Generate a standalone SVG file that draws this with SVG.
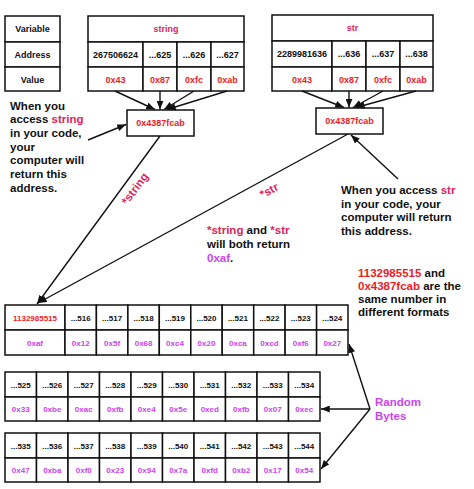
<svg xmlns="http://www.w3.org/2000/svg" width="474" height="489" viewBox="0 0 474 489">
<defs>
<style>
.c{fill:#fff;stroke:#111;stroke-width:1.5}
.t{font-family:"Liberation Sans",Arial,sans-serif;font-weight:bold;font-size:9px;text-anchor:middle;fill:#111}
.s{font-size:8px}
.x{font-family:"Liberation Sans",Arial,sans-serif;font-weight:bold;font-size:11.5px;fill:#111}
.red{fill:#ee1c25}
.cr{fill:#e0245a}
.pu{fill:#cc44ee}
.ln{stroke:#111;stroke-width:1.4;fill:none}
</style>
<marker id="ah" viewBox="0 0 10 8" refX="10" refY="4" markerWidth="9" markerHeight="7" markerUnits="userSpaceOnUse" orient="auto">
<path d="M0,0 L10,4 L0,8 z" fill="#111"/>
</marker>
</defs>
<rect width="474" height="489" fill="#fff"/>

<g id="legend">
<rect class="c" x="5" y="16" width="55" height="26"/>
<rect class="c" x="5" y="42" width="55" height="25"/>
<rect class="c" x="5" y="67" width="55" height="24"/>
<text class="t" x="32.5" y="32">Variable</text>
<text class="t" x="32.5" y="57.5">Address</text>
<text class="t" x="32.5" y="82.5">Value</text>
</g>

<g id="string-table">
<rect class="c" x="88" y="16" width="156" height="26"/>
<rect class="c" x="88" y="42" width="55" height="25"/>
<rect class="c" x="143" y="42" width="34" height="25"/>
<rect class="c" x="177" y="42" width="34" height="25"/>
<rect class="c" x="211" y="42" width="33" height="25"/>
<rect class="c" x="88" y="67" width="55" height="24"/>
<rect class="c" x="143" y="67" width="34" height="24"/>
<rect class="c" x="177" y="67" width="34" height="24"/>
<rect class="c" x="211" y="67" width="33" height="24"/>
<text class="t cr" x="166" y="32">string</text>
<text class="t" x="115.5" y="57.5">267506624</text>
<text class="t" x="160" y="57.5">...625</text>
<text class="t" x="194" y="57.5">...626</text>
<text class="t" x="227.5" y="57.5">...627</text>
<text class="t red" x="115.5" y="82.5">0x43</text>
<text class="t red" x="160" y="82.5">0x87</text>
<text class="t red" x="194" y="82.5">0xfc</text>
<text class="t red" x="227.5" y="82.5">0xab</text>
</g>

<g id="str-table">
<rect class="c" x="272" y="15" width="161" height="26"/>
<rect class="c" x="272" y="41" width="60" height="26"/>
<rect class="c" x="332" y="41" width="34" height="26"/>
<rect class="c" x="366" y="41" width="34" height="26"/>
<rect class="c" x="400" y="41" width="33" height="26"/>
<rect class="c" x="272" y="67" width="60" height="24"/>
<rect class="c" x="332" y="67" width="34" height="24"/>
<rect class="c" x="366" y="67" width="34" height="24"/>
<rect class="c" x="400" y="67" width="33" height="24"/>
<text class="t cr" x="352.5" y="31">str</text>
<text class="t" x="302" y="57">2289981636</text>
<text class="t" x="349" y="57">...636</text>
<text class="t" x="383" y="57">...637</text>
<text class="t" x="416.5" y="57">...638</text>
<text class="t red" x="302" y="82.5">0x43</text>
<text class="t red" x="349" y="82.5">0x87</text>
<text class="t red" x="383" y="82.5">0xfc</text>
<text class="t red" x="416.5" y="82.5">0xab</text>
</g>

<g id="string-pointer">
<rect class="c" x="127" y="110" width="67" height="26"/>
<text class="t red" x="160.5" y="126">0x4387fcab</text>
</g>

<g id="str-pointer">
<rect class="c" x="316" y="108" width="67" height="26"/>
<text class="t red" x="349.5" y="124">0x4387fcab</text>
</g>

<g id="note-string">
<text class="x" x="10" y="109.5">When you</text>
<text class="x" x="10" y="123.2">access <tspan class="cr">string</tspan></text>
<text class="x" x="10" y="136.9">in your code,</text>
<text class="x" x="10" y="150.6">your</text>
<text class="x" x="10" y="164.3">computer will</text>
<text class="x" x="10" y="178">return this</text>
<text class="x" x="10" y="191.7">address.</text>
</g>

<g id="note-str">
<text class="x" x="341" y="194">When you access <tspan class="cr">str</tspan></text>
<text class="x" x="341" y="207.5">in your code, your</text>
<text class="x" x="341" y="221">computer will return</text>
<text class="x" x="341" y="234.5">this address.</text>
</g>

<g id="note-deref">
<text class="x" x="207" y="234.3"><tspan class="cr">*string</tspan> and <tspan class="cr">*str</tspan></text>
<text class="x" x="207" y="248">will both return</text>
<text class="x" x="207" y="261.5"><tspan class="pu">0xaf</tspan>.</text>
</g>

<g id="note-formats">
<text class="x" x="358" y="277"><tspan class="red">1132985515</tspan> and</text>
<text class="x" x="358" y="290"><tspan class="red">0x4387fcab</tspan> are the</text>
<text class="x" x="358" y="303">same number in</text>
<text class="x" x="358" y="316">different formats</text>
</g>

<g id="note-random">
<text class="x pu" x="375" y="406">Random</text>
<text class="x pu" x="375" y="420">Bytes</text>
</g>

<g id="memory-row1">
<rect class="c" x="5" y="305" width="60" height="25"/>
<rect class="c" x="65" y="305" width="31.4" height="25"/>
<rect class="c" x="96.4" y="305" width="31.5" height="25"/>
<rect class="c" x="127.9" y="305" width="31.4" height="25"/>
<rect class="c" x="159.3" y="305" width="31.5" height="25"/>
<rect class="c" x="190.8" y="305" width="31.4" height="25"/>
<rect class="c" x="222.2" y="305" width="31.5" height="25"/>
<rect class="c" x="253.7" y="305" width="31.4" height="25"/>
<rect class="c" x="285.1" y="305" width="31.5" height="25"/>
<rect class="c" x="316.6" y="305" width="31.4" height="25"/>
<rect class="c" x="5" y="330" width="60" height="25"/>
<rect class="c" x="65" y="330" width="31.4" height="25"/>
<rect class="c" x="96.4" y="330" width="31.5" height="25"/>
<rect class="c" x="127.9" y="330" width="31.4" height="25"/>
<rect class="c" x="159.3" y="330" width="31.5" height="25"/>
<rect class="c" x="190.8" y="330" width="31.4" height="25"/>
<rect class="c" x="222.2" y="330" width="31.5" height="25"/>
<rect class="c" x="253.7" y="330" width="31.4" height="25"/>
<rect class="c" x="285.1" y="330" width="31.5" height="25"/>
<rect class="c" x="316.6" y="330" width="31.4" height="25"/>
<text class="t s red" x="35" y="320.5">1132985515</text>
<text class="t s" x="80.7" y="320.5">...516</text>
<text class="t s" x="112.1" y="320.5">...517</text>
<text class="t s" x="143.6" y="320.5">...518</text>
<text class="t s" x="175" y="320.5">...519</text>
<text class="t s" x="206.5" y="320.5">...520</text>
<text class="t s" x="237.9" y="320.5">...521</text>
<text class="t s" x="269.4" y="320.5">...522</text>
<text class="t s" x="300.8" y="320.5">...523</text>
<text class="t s" x="332.3" y="320.5">...524</text>
<text class="t s pu" x="35" y="345.5">0xaf</text>
<text class="t s pu" x="80.7" y="345.5">0x12</text>
<text class="t s pu" x="112.1" y="345.5">0x5f</text>
<text class="t s pu" x="143.6" y="345.5">0x68</text>
<text class="t s pu" x="175" y="345.5">0xc4</text>
<text class="t s pu" x="206.5" y="345.5">0x20</text>
<text class="t s pu" x="237.9" y="345.5">0xca</text>
<text class="t s pu" x="269.4" y="345.5">0xcd</text>
<text class="t s pu" x="300.8" y="345.5">0xf6</text>
<text class="t s pu" x="332.3" y="345.5">0x27</text>
</g>

<g id="memory-row2">
<rect class="c" x="5" y="372" width="31.5" height="25"/>
<rect class="c" x="36.5" y="372" width="31.5" height="25"/>
<rect class="c" x="68" y="372" width="31.5" height="25"/>
<rect class="c" x="99.5" y="372" width="31.5" height="25"/>
<rect class="c" x="131" y="372" width="31.5" height="25"/>
<rect class="c" x="162.5" y="372" width="31.5" height="25"/>
<rect class="c" x="194" y="372" width="31.5" height="25"/>
<rect class="c" x="225.5" y="372" width="31.5" height="25"/>
<rect class="c" x="257" y="372" width="31.5" height="25"/>
<rect class="c" x="288.5" y="372" width="31.5" height="25"/>
<rect class="c" x="5" y="397" width="31.5" height="24"/>
<rect class="c" x="36.5" y="397" width="31.5" height="24"/>
<rect class="c" x="68" y="397" width="31.5" height="24"/>
<rect class="c" x="99.5" y="397" width="31.5" height="24"/>
<rect class="c" x="131" y="397" width="31.5" height="24"/>
<rect class="c" x="162.5" y="397" width="31.5" height="24"/>
<rect class="c" x="194" y="397" width="31.5" height="24"/>
<rect class="c" x="225.5" y="397" width="31.5" height="24"/>
<rect class="c" x="257" y="397" width="31.5" height="24"/>
<rect class="c" x="288.5" y="397" width="31.5" height="24"/>
<text class="t s" x="20.75" y="387.5">...525</text>
<text class="t s" x="52.25" y="387.5">...526</text>
<text class="t s" x="83.75" y="387.5">...527</text>
<text class="t s" x="115.25" y="387.5">...528</text>
<text class="t s" x="146.75" y="387.5">...529</text>
<text class="t s" x="178.25" y="387.5">...530</text>
<text class="t s" x="209.75" y="387.5">...531</text>
<text class="t s" x="241.25" y="387.5">...532</text>
<text class="t s" x="272.75" y="387.5">...533</text>
<text class="t s" x="304.25" y="387.5">...534</text>
<text class="t s pu" x="20.75" y="412">0x33</text>
<text class="t s pu" x="52.25" y="412">0xbe</text>
<text class="t s pu" x="83.75" y="412">0xac</text>
<text class="t s pu" x="115.25" y="412">0xfb</text>
<text class="t s pu" x="146.75" y="412">0xe4</text>
<text class="t s pu" x="178.25" y="412">0x5e</text>
<text class="t s pu" x="209.75" y="412">0xed</text>
<text class="t s pu" x="241.25" y="412">0xfb</text>
<text class="t s pu" x="272.75" y="412">0x07</text>
<text class="t s pu" x="304.25" y="412">0xec</text>
</g>

<g id="memory-row3">
<rect class="c" x="5" y="433" width="31.5" height="25"/>
<rect class="c" x="36.5" y="433" width="31.5" height="25"/>
<rect class="c" x="68" y="433" width="31.5" height="25"/>
<rect class="c" x="99.5" y="433" width="31.5" height="25"/>
<rect class="c" x="131" y="433" width="31.5" height="25"/>
<rect class="c" x="162.5" y="433" width="31.5" height="25"/>
<rect class="c" x="194" y="433" width="31.5" height="25"/>
<rect class="c" x="225.5" y="433" width="31.5" height="25"/>
<rect class="c" x="257" y="433" width="31.5" height="25"/>
<rect class="c" x="288.5" y="433" width="31.5" height="25"/>
<rect class="c" x="5" y="458" width="31.5" height="24"/>
<rect class="c" x="36.5" y="458" width="31.5" height="24"/>
<rect class="c" x="68" y="458" width="31.5" height="24"/>
<rect class="c" x="99.5" y="458" width="31.5" height="24"/>
<rect class="c" x="131" y="458" width="31.5" height="24"/>
<rect class="c" x="162.5" y="458" width="31.5" height="24"/>
<rect class="c" x="194" y="458" width="31.5" height="24"/>
<rect class="c" x="225.5" y="458" width="31.5" height="24"/>
<rect class="c" x="257" y="458" width="31.5" height="24"/>
<rect class="c" x="288.5" y="458" width="31.5" height="24"/>
<text class="t s" x="20.75" y="448.5">...535</text>
<text class="t s" x="52.25" y="448.5">...536</text>
<text class="t s" x="83.75" y="448.5">...537</text>
<text class="t s" x="115.25" y="448.5">...538</text>
<text class="t s" x="146.75" y="448.5">...539</text>
<text class="t s" x="178.25" y="448.5">...540</text>
<text class="t s" x="209.75" y="448.5">...541</text>
<text class="t s" x="241.25" y="448.5">...542</text>
<text class="t s" x="272.75" y="448.5">...543</text>
<text class="t s" x="304.25" y="448.5">...544</text>
<text class="t s pu" x="20.75" y="473">0x47</text>
<text class="t s pu" x="52.25" y="473">0xba</text>
<text class="t s pu" x="83.75" y="473">0xf0</text>
<text class="t s pu" x="115.25" y="473">0x23</text>
<text class="t s pu" x="146.75" y="473">0x94</text>
<text class="t s pu" x="178.25" y="473">0x7a</text>
<text class="t s pu" x="209.75" y="473">0xfd</text>
<text class="t s pu" x="241.25" y="473">0xb2</text>
<text class="t s pu" x="272.75" y="473">0x17</text>
<text class="t s pu" x="304.25" y="473">0x54</text>
</g>

<g id="connectors">
<line class="ln" x1="115" y1="91" x2="155" y2="109.5" marker-end="url(#ah)"/>
<line class="ln" x1="160" y1="91" x2="160" y2="109.5" marker-end="url(#ah)"/>
<line class="ln" x1="194" y1="91" x2="164" y2="109.5" marker-end="url(#ah)"/>
<line class="ln" x1="227" y1="91" x2="167" y2="109.5" marker-end="url(#ah)"/>
<line class="ln" x1="302" y1="91" x2="344" y2="107.5" marker-end="url(#ah)"/>
<line class="ln" x1="349" y1="91" x2="349" y2="107.5" marker-end="url(#ah)"/>
<line class="ln" x1="383" y1="91" x2="353" y2="107.5" marker-end="url(#ah)"/>
<line class="ln" x1="416" y1="91" x2="356" y2="107.5" marker-end="url(#ah)"/>
<line class="ln" x1="88" y1="140" x2="126" y2="124.5" marker-end="url(#ah)"/>
<line class="ln" x1="398" y1="179" x2="351" y2="135" marker-end="url(#ah)"/>
<line class="ln" x1="160" y1="136" x2="37" y2="304" marker-end="url(#ah)"/>
<line class="ln" x1="348" y1="134" x2="38" y2="303" marker-end="url(#ah)"/>
<line class="ln" x1="370" y1="409" x2="349" y2="344" marker-end="url(#ah)"/>
<line class="ln" x1="370" y1="409" x2="321" y2="409" marker-end="url(#ah)"/>
<line class="ln" x1="370" y1="409" x2="321" y2="469" marker-end="url(#ah)"/>
<text class="x cr" x="0" y="0" text-anchor="middle" transform="translate(138,191) rotate(-53.5)">*string</text>
<text class="x cr" x="0" y="0" text-anchor="middle" transform="translate(271,194) rotate(-28.4)">*str</text>
</g>
</svg>
